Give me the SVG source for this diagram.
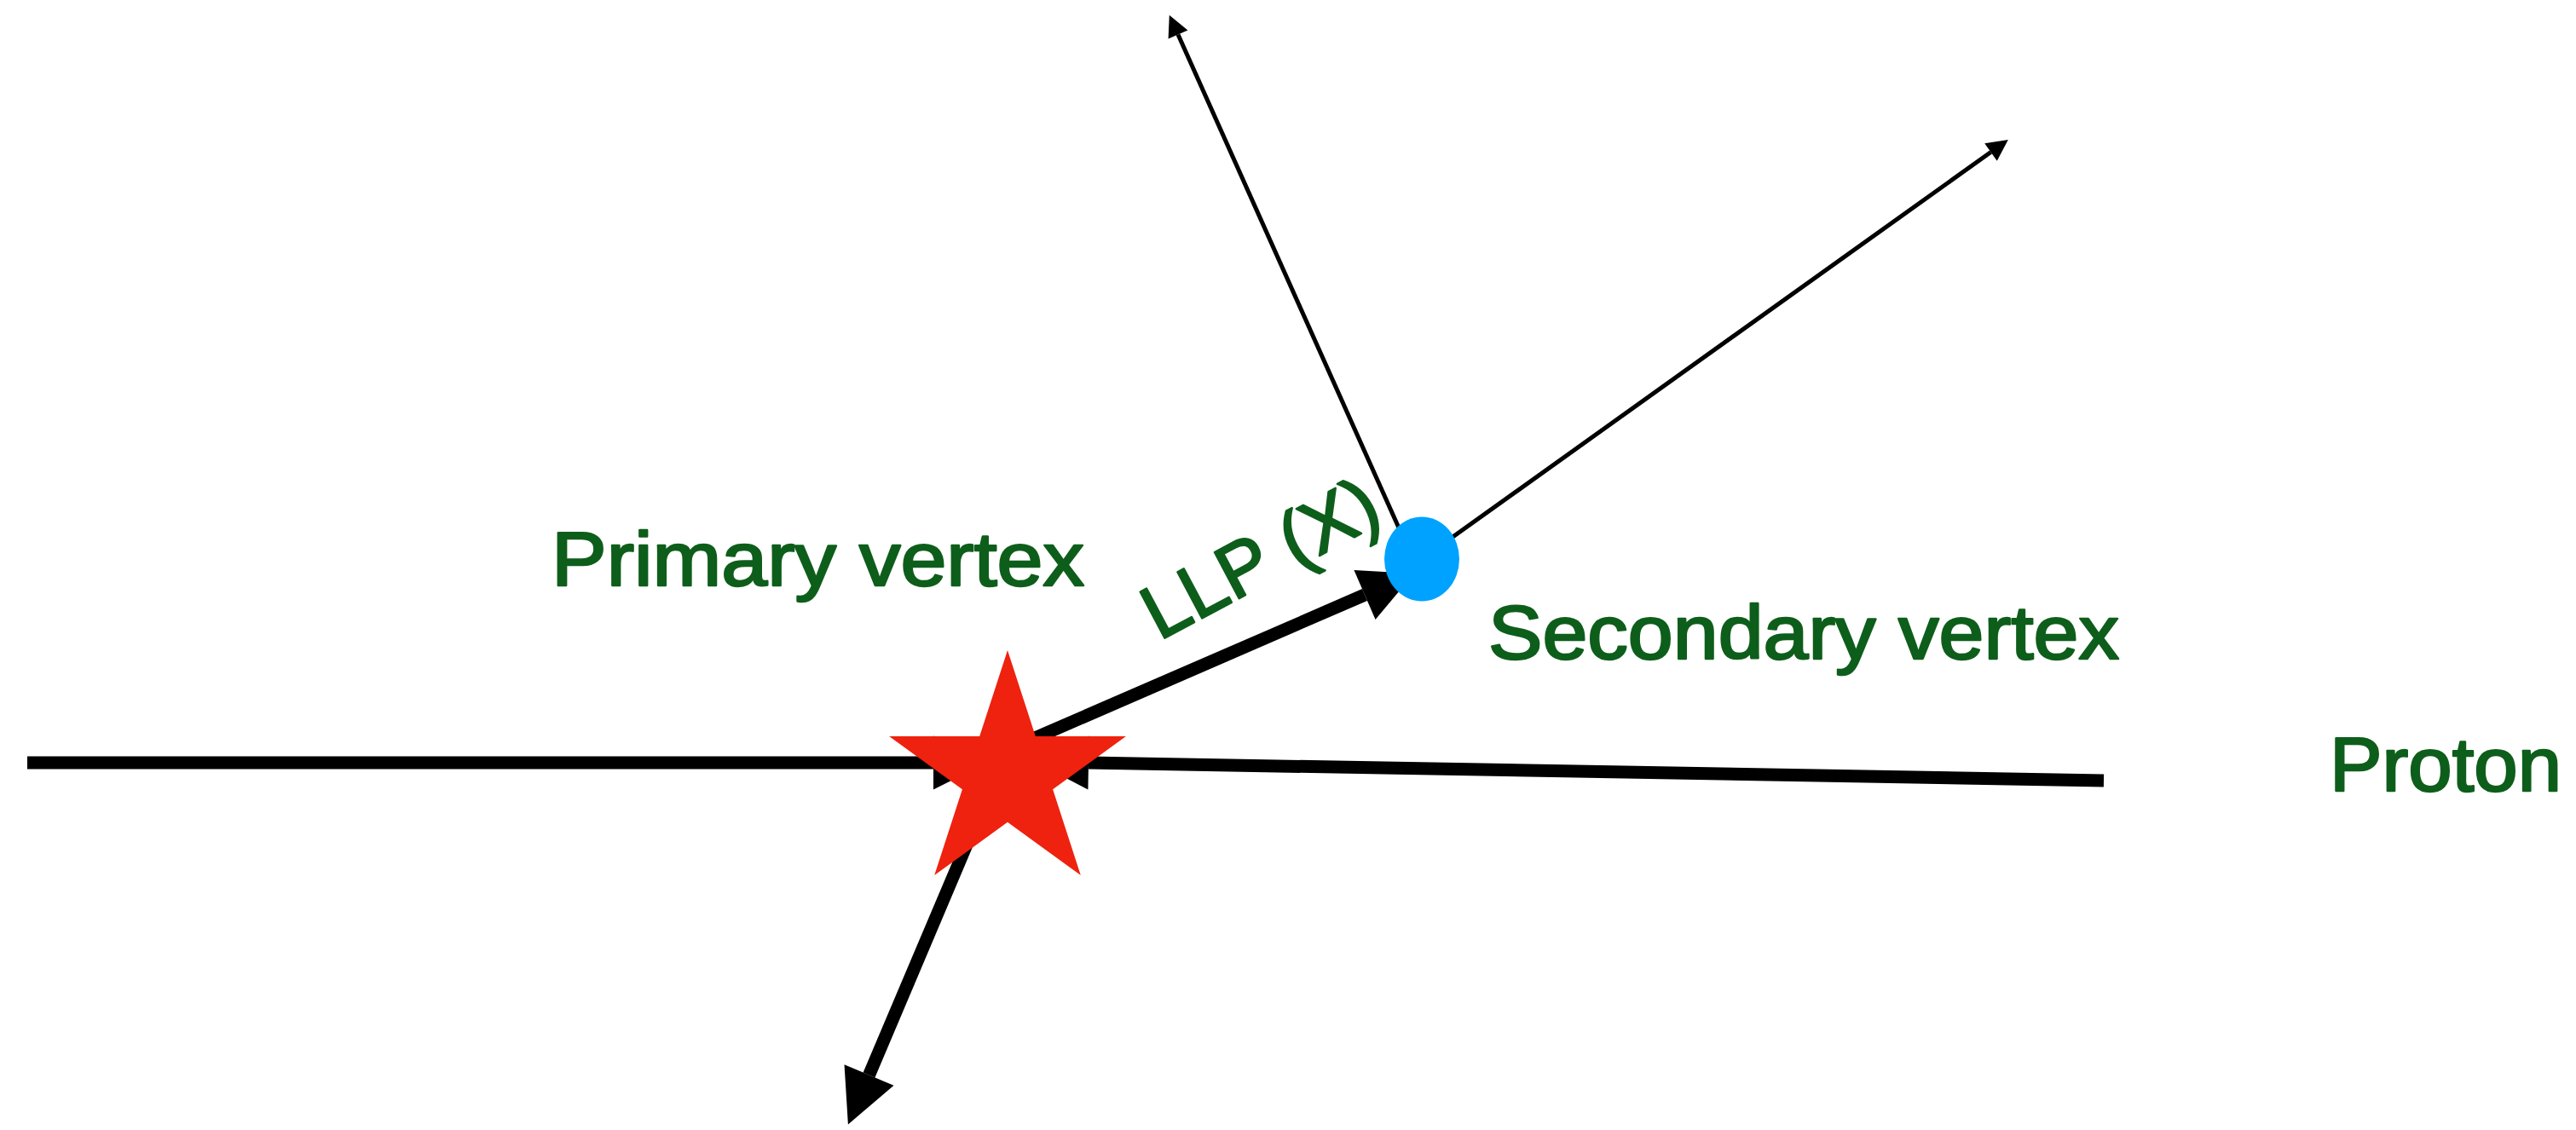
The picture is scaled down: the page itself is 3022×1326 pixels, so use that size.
<svg xmlns="http://www.w3.org/2000/svg" width="3022" height="1326" viewBox="0 0 3022 1326">
<style>
.lbl{font-family:"Liberation Sans","DejaVu Sans",sans-serif;font-size:89px;fill:#0e5e1b;stroke:#0e5e1b;stroke-width:2.5;stroke-linejoin:round}
.thick{stroke:#000;stroke-width:15;fill:none}
.thin{stroke:#000;stroke-width:5;fill:none}
</style>
<defs>
<marker id="bigHead" markerUnits="userSpaceOnUse" markerWidth="64" markerHeight="64" refX="0" refY="31.5" orient="auto" viewBox="0 0 64 64" overflow="visible">
<path d="M0,0 L63,31.5 L0,63 Z" fill="#000"/>
</marker>
<marker id="smallHead" markerUnits="userSpaceOnUse" markerWidth="26" markerHeight="26" refX="0" refY="12.5" orient="auto" viewBox="0 0 26 26" overflow="visible">
<path d="M0,0 L25,12.5 L0,25 Z" fill="#000"/>
</marker>
</defs>
<rect width="3022" height="1326" fill="#fff"/>
<g id="connectors">
<line class="thick" x1="32" y1="895" x2="1095" y2="895" marker-end="url(#bigHead)"/>
<line class="thick" x1="2468" y1="916" x2="1277" y2="895" marker-end="url(#bigHead)"/>
<line class="thick" x1="1182" y1="880" x2="1601" y2="698" marker-end="url(#bigHead)"/>
<line class="thick" x1="1182" y1="878" x2="1019.5" y2="1261.5" marker-end="url(#bigHead)"/>
<line class="thin" x1="1648" y1="635" x2="1382" y2="40.5" marker-end="url(#smallHead)"/>
<line class="thin" x1="1668" y1="656" x2="2335.5" y2="178.5" marker-end="url(#smallHead)"/>
</g>
<g id="primary-vertex">
<polygon points="1182,763 1214.8,863.9 1320.9,863.9 1235.1,926.3 1267.8,1027.1 1182,964.8 1096.2,1027.1 1128.9,926.3 1043.1,863.9 1149.2,863.9" fill="#ee220f"/>
</g>
<g id="secondary-vertex">
<ellipse cx="1668" cy="656" rx="44" ry="49.5" fill="#00a2ff"/>
</g>
<g id="labels">
<text class="lbl" x="647" y="687" textLength="625" lengthAdjust="spacingAndGlyphs">Primary vertex</text>
<text class="lbl" x="1746" y="773" textLength="740" lengthAdjust="spacingAndGlyphs">Secondary vertex</text>
<text class="lbl" x="2733" y="928" textLength="272" lengthAdjust="spacingAndGlyphs">Proton</text>
<text class="lbl" x="1360" y="752" transform="rotate(-28 1360 752)" textLength="300" lengthAdjust="spacingAndGlyphs">LLP (X)</text>
</g>
</svg>
